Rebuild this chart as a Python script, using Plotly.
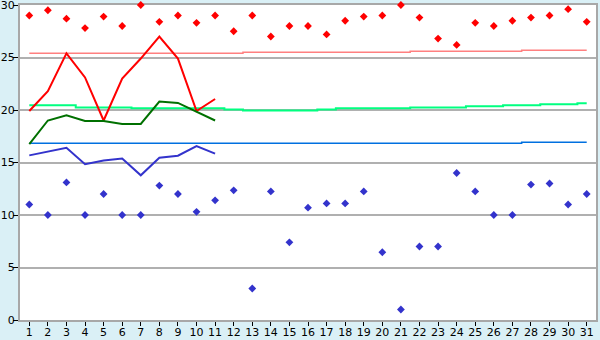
import plotly.graph_objects as go

days = list(range(1, 32))
day_max = [29.0, 29.5, 28.7, 27.8, 28.9, 28.0, 30.0, 28.4, 29.0, 28.3,
           29.0, 27.5, 29.0, 27.0, 28.0, 28.0, 27.2, 28.5, 28.9, 29.0,
           30.0, 28.8, 26.8, 26.2, 28.3, 28.0, 28.5, 28.8, 29.0, 29.6, 28.4]
day_min = [11.0, 10.0, 13.1, 10.0, 12.0, 10.0, 10.0, 12.8, 12.0, 10.3,
           11.4, 12.35, 3.0, 12.25, 7.4, 10.7, 11.1, 11.1, 12.25, 6.45,
           1.0, 7.0, 7.0, 14.0, 12.25, 10.0, 10.0, 12.9, 13.0, 11.0, 12.0]

cur_days = list(range(1, 12))
cur_max = [19.9, 21.8, 25.4, 23.1, 19.0, 23.0, 24.9, 27.0, 24.9, 19.9, 21.05]
cur_mean = [16.76, 19.0, 19.5, 18.95, 18.95, 18.67, 18.67, 20.8, 20.67, 19.85, 19.0]
cur_min = [15.68, 16.06, 16.4, 14.83, 15.2, 15.37, 13.78, 15.46, 15.65, 16.57, 15.84]

norm_max = [25.4] * 12 + [25.5] * 9 + [25.6] * 6 + [25.7] * 4
norm_mean = ([20.45] * 3 + [20.25] * 3 + [20.16] * 5 + [20.05] + [19.95] * 4 +
             [20.05] + [20.16] * 4 + [20.25] * 3 + [20.35] * 2 + [20.45] * 2 +
             [20.55] * 2 + [20.64])
norm_min = [16.83] * 27 + [16.92] * 4

fig = go.Figure()
fig.add_trace(go.Scatter(x=days, y=norm_max, mode="lines", line=dict(color="#ff8080", width=1.5, shape="hvh"), hoverinfo="skip"))
fig.add_trace(go.Scatter(x=days, y=norm_mean, mode="lines", line=dict(color="#00ff80", width=2, shape="hvh"), hoverinfo="skip"))
fig.add_trace(go.Scatter(x=days, y=norm_min, mode="lines", line=dict(color="#0070e0", width=1.5, shape="hvh"), hoverinfo="skip"))
fig.add_trace(go.Scatter(x=days, y=day_max, mode="markers", cliponaxis=False,
                         marker=dict(symbol="diamond", size=6, color="#ff0000")))
fig.add_trace(go.Scatter(x=days, y=day_min, mode="markers", cliponaxis=False,
                         marker=dict(symbol="diamond", size=6, color="#3333cc")))
fig.add_trace(go.Scatter(x=cur_days, y=cur_max, mode="lines", line=dict(color="#ff0000", width=2)))
fig.add_trace(go.Scatter(x=cur_days, y=cur_mean, mode="lines", line=dict(color="#007000", width=2)))
fig.add_trace(go.Scatter(x=cur_days, y=cur_min, mode="lines", line=dict(color="#3333cc", width=2)))

fig.update_layout(
    width=600, height=340,
    margin=dict(l=20, r=4, t=5, b=20),
    paper_bgcolor="#daf0f6", plot_bgcolor="#ffffff",
    showlegend=False,
    font=dict(family="DejaVu Sans", size=11, color="#000000"),
)
fig.update_xaxes(range=[0.5, 31.5], tickmode="array", tickvals=days, ticktext=[str(d) for d in days],
                 showgrid=False, zeroline=False, showline=True, linecolor="#a8a8a8", linewidth=2,
                 mirror=True, ticks="outside", ticklen=4, tickcolor="#000000", tickfont=dict(size=11),
                 ticklabelstandoff=-3, ticklabeloverflow="allow", automargin=False, layer="below traces")
fig.update_yaxes(range=[0, 30], tickmode="array", tickvals=[0, 5, 10, 15, 20, 25, 30],
                 showgrid=True, gridcolor="#b0b0b0", gridwidth=1.5, zeroline=False,
                 showline=True, linecolor="#a8a8a8", linewidth=2, mirror=True,
                 ticks="outside", ticklen=5, tickcolor="#000000", tickfont=dict(size=11),
                 ticklabelstandoff=-4, ticklabeloverflow="allow", automargin=False, layer="below traces")

fig.write_html("out.html")
